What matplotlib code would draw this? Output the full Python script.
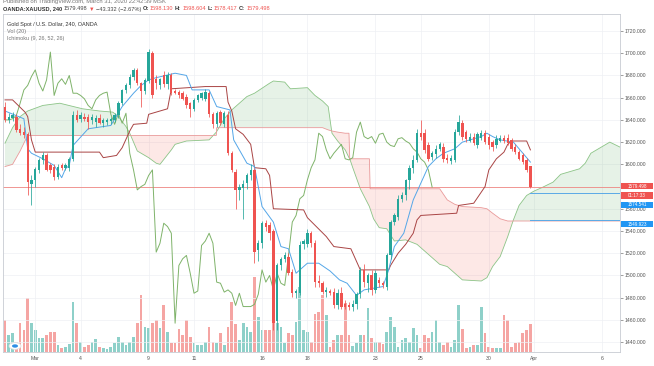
import matplotlib
matplotlib.use("Agg")
import matplotlib.pyplot as plt
import numpy as np
from matplotlib.patches import Circle, Rectangle

plt.rcParams['font.family'] = ['Liberation Sans', 'DejaVu Sans']

# ---------------- data (4h bars, XAUUSD) ----------------
opens = [1652, 1640, 1642, 1643, 1632, 1629, 1627, 1582, 1586, 1595,
         1604, 1608, 1599, 1598, 1589, 1599, 1597, 1597, 1605, 1644,
         1641, 1643, 1643, 1640, 1638, 1642, 1637, 1638, 1639, 1640,
         1644, 1655, 1667, 1671, 1679, 1685, 1673, 1666, 1675, 1700,
         1677, 1671, 1680, 1672, 1680, 1666, 1665, 1664, 1661, 1655,
         1650, 1658, 1660, 1659, 1664, 1645, 1636, 1647, 1636, 1644,
         1610, 1593, 1577, 1579, 1583, 1590, 1595, 1523, 1529, 1547,
         1545, 1540, 1459, 1509, 1515, 1517, 1503, 1484, 1484, 1528,
         1528, 1538, 1529, 1495, 1493, 1485, 1486, 1485, 1473, 1484,
         1474, 1473, 1472, 1474, 1483, 1505, 1493, 1500, 1487, 1496,
         1493, 1490, 1518, 1548, 1553, 1569, 1572, 1586, 1597, 1604,
         1628, 1628, 1617, 1607, 1609, 1614, 1616, 1606, 1603, 1604,
         1629, 1637, 1629, 1621, 1625, 1617, 1624, 1628, 1625, 1620,
         1617, 1621, 1624, 1624, 1622, 1616, 1611, 1608, 1604, 1598.130]
highs = [1656, 1646, 1647, 1645, 1636, 1634, 1629, 1590, 1598, 1606,
         1611, 1610, 1601, 1600, 1600, 1601, 1601, 1607, 1648, 1649,
         1647, 1646, 1645, 1645, 1644, 1645, 1642, 1642, 1643, 1646,
         1657, 1668, 1673, 1681, 1687, 1687, 1674, 1678, 1704, 1702,
         1680, 1678, 1684, 1683, 1682, 1668, 1667, 1666, 1663, 1656,
         1660, 1663, 1665, 1668, 1666, 1647, 1648, 1649, 1648, 1648,
         1612, 1596, 1582, 1586, 1592, 1600, 1597, 1532, 1549, 1550,
         1548, 1542, 1511, 1517, 1521, 1520, 1506, 1488, 1531, 1533,
         1542, 1540, 1532, 1500, 1495, 1490, 1488, 1489, 1488, 1490,
         1478, 1476, 1478, 1485, 1508, 1510, 1502, 1505, 1505, 1499,
         1495, 1520, 1550, 1556, 1572, 1575, 1587, 1599, 1608, 1632,
         1640, 1632, 1620, 1612, 1617, 1620, 1619, 1609, 1608, 1632,
         1644, 1640, 1631, 1628, 1628, 1629, 1631, 1631, 1627, 1622,
         1626, 1626, 1626, 1627, 1624, 1618, 1613, 1610, 1606, 1598.604]
lows = [1638, 1637, 1639, 1629, 1626, 1624, 1572, 1563, 1580, 1592,
        1600, 1594, 1592, 1586, 1587, 1595, 1595, 1594, 1603, 1638,
        1638, 1639, 1632, 1636, 1634, 1636, 1634, 1635, 1636, 1638,
        1642, 1653, 1664, 1669, 1676, 1671, 1652, 1663, 1673, 1660,
        1668, 1668, 1670, 1668, 1662, 1663, 1660, 1658, 1651, 1643,
        1648, 1656, 1658, 1657, 1643, 1633, 1634, 1635, 1634, 1608,
        1593, 1560, 1568, 1551, 1578, 1586, 1511, 1513, 1525, 1540,
        1532, 1451, 1451, 1505, 1512, 1500, 1481, 1480, 1482, 1524,
        1526, 1526, 1490, 1490, 1483, 1481, 1482, 1471, 1470, 1470,
        1470, 1469, 1468, 1470, 1480, 1490, 1485, 1482, 1484, 1490,
        1489, 1487, 1515, 1545, 1550, 1566, 1568, 1578, 1592, 1602,
        1622, 1610, 1603, 1604, 1606, 1612, 1602, 1601, 1600, 1602,
        1626, 1622, 1620, 1620, 1617, 1615, 1622, 1618, 1614, 1612,
        1615, 1620, 1619, 1617, 1612, 1609, 1604, 1600, 1593, 1578.417]
closes = [1640, 1643, 1644, 1631, 1628, 1626, 1584, 1586, 1596, 1604,
          1608, 1595, 1595, 1589, 1598, 1597, 1599, 1605, 1644, 1640,
          1644, 1641, 1638, 1643, 1642, 1637, 1640, 1640, 1641, 1644,
          1655, 1667, 1671, 1679, 1685, 1673, 1666, 1676, 1701, 1662,
          1673, 1677, 1672, 1680, 1664, 1664, 1662, 1659, 1653, 1650,
          1658, 1662, 1664, 1665, 1645, 1636, 1646, 1637, 1646, 1610,
          1595, 1577, 1580, 1582, 1590, 1595, 1521, 1529, 1547, 1544,
          1538, 1457, 1509, 1515, 1518, 1502, 1484, 1486, 1527, 1531,
          1538, 1529, 1494, 1493, 1485, 1487, 1484, 1473, 1484, 1472,
          1472, 1472, 1474, 1483, 1505, 1494, 1500, 1487, 1502, 1493,
          1491, 1518, 1548, 1554, 1569, 1572, 1586, 1597, 1604, 1628,
          1625, 1613, 1605, 1610, 1614, 1618, 1605, 1604, 1606, 1629,
          1638, 1625, 1623, 1625, 1619, 1627, 1628, 1620, 1617, 1616,
          1623, 1624, 1621, 1619, 1614, 1611, 1605, 1602, 1595, 1579.498]
volumes = [32, 17, 19, 10, 29, 22, 54, 29, 22, 14,
           14, 17, 20, 20, 7, 4, 5, 8, 50, 29,
           10, 5, 7, 10, 13, 5, 4, 3, 5, 9,
           15, 10, 7, 10, 15, 29, 57, 25, 24, 29,
           32, 24, 47, 20, 9, 9, 23, 17, 32, 15,
           9, 7, 7, 10, 25, 10, 9, 19, 7, 25,
           50, 28, 12, 29, 25, 20, 75, 35, 22, 22,
           22, 49, 29, 25, 9, 19, 17, 30, 65, 22,
           20, 10, 38, 40, 57, 37, 5, 12, 17, 17,
           49, 17, 6, 9, 17, 17, 44, 14, 10, 10,
           8, 20, 35, 25, 5, 12, 14, 10, 24, 17,
           4, 17, 14, 20, 32, 10, 7, 10, 5, 12,
           47, 23, 4, 5, 7, 7, 45, 19, 5, 4,
           4, 4, 37, 32, 5, 9, 10, 19, 22, 28]

# Ichimoku lines (bar index, price)
tenkan_x = [0, 5, 6, 7, 10, 13, 15, 16, 17, 18, 22, 28, 31, 34, 36, 38, 40, 45, 48, 49.5,
            54, 56, 59.5, 60.5, 62, 64, 66, 68, 71, 73, 75, 77, 80, 83, 86, 88.5, 90.5, 93, 95, 100,
            101.5, 103, 105.5, 108, 110, 112, 114, 116, 119, 121, 123, 126, 127.5, 129, 131, 134.5, 137, 139]
tenkan_v = [1648, 1641, 1614, 1610, 1605, 1599, 1588, 1596, 1599, 1617, 1632, 1635, 1652, 1664, 1671, 1676, 1678, 1682, 1680, 1667,
            1667, 1652, 1649, 1622, 1613, 1601, 1598, 1562, 1548, 1526, 1524, 1502, 1511, 1511, 1504, 1496, 1493, 1482, 1487, 1490,
            1505, 1526, 1538, 1568, 1583, 1598, 1605, 1610, 1614, 1620, 1622, 1625, 1628, 1625, 1622, 1620, 1610, 1602]
kijun_x = [0, 2, 5.3, 6, 7, 8, 25, 26, 29.5, 31, 33, 34, 37.5, 38, 43, 44, 53, 58.5, 59, 60,
           61, 63, 65, 66, 69, 70, 71, 79, 80, 85, 87, 91.5, 94, 101.5, 102, 104, 106, 108, 109, 110,
           119.5, 120, 124, 127, 128, 130, 132, 133, 134, 138, 139]
kijun_v = [1658, 1658, 1647, 1643, 1622, 1611, 1611, 1606, 1608, 1615, 1630, 1636, 1637, 1645, 1650, 1668, 1670, 1670, 1656, 1648,
           1632, 1627, 1618, 1597, 1596, 1590, 1560, 1559, 1552, 1535, 1526, 1524, 1505, 1505, 1509, 1520, 1528, 1538, 1550, 1554,
           1556, 1563, 1565, 1580, 1595, 1605, 1611, 1618, 1621, 1621, 1613]
cloud_x = [0, 2, 4, 6, 10, 14.5, 20.5, 25, 28.5, 30,
           32, 33, 35, 38, 40, 41, 44, 45, 48, 54,
           55.9, 56, 58, 60, 62, 64, 66, 70, 71, 74,
           75.5, 80, 82, 84, 85.5, 86.5, 88, 90, 91, 91.2,
           92, 94, 96.4, 96.6, 97.5, 99, 101, 103, 106, 109,
           112, 115, 117, 119, 121, 126, 127.5, 129, 131, 133,
           134.5, 136, 138, 140, 142, 145, 147, 149, 152, 153.5,
           155, 157, 160, 163, 165]
span_a = [1619, 1633, 1643, 1648, 1653, 1655, 1650, 1648, 1647, 1643,
          1634, 1628, 1612, 1606, 1601, 1600, 1613, 1618, 1621, 1622,
          1629, 1629.5, 1641, 1649, 1655, 1661, 1664, 1673, 1675, 1674,
          1668, 1669, 1662, 1657, 1652, 1628, 1621, 1613, 1606, 1605,
          1597, 1578, 1562, 1560, 1551, 1543, 1542, 1531, 1532, 1528,
          1519, 1510, 1508, 1502, 1496, 1495, 1498, 1508, 1517, 1535,
          1550, 1563, 1572, 1576, 1579, 1584, 1591, 1593, 1596, 1601,
          1610, 1614, 1620, 1615, 1608]
span_b = [1598, 1600, 1612, 1626, 1626, 1626, 1626, 1626, 1626, 1626,
          1626, 1626, 1626, 1626, 1626, 1626, 1626, 1626, 1626, 1626,
          1626, 1633, 1633, 1633, 1633, 1633, 1633, 1633, 1633, 1633,
          1633, 1633, 1633, 1633, 1631, 1630, 1629, 1628, 1628, 1605,
          1605, 1605, 1605, 1578, 1578, 1578, 1578, 1578, 1578, 1578,
          1578, 1578, 1568, 1564, 1562, 1561, 1560, 1556, 1551, 1549,
          1549, 1549, 1549, 1549, 1549, 1549, 1549, 1549, 1549, 1549,
          1549, 1549, 1549, 1549, 1549]
lag_shift = 26
last_price = 1579.498
span_a_last = 1574.541
span_b_last = 1549.923

tick_idx = [8, 20, 38, 50, 68, 80, 98, 110, 128, 140, 158]
tick_lbl = ['Mar', '4', '9', '11', '16', '18', '23', '25', '30', 'Apr', '6']
price_ticks = list(range(1440, 1721, 20))
hidden_price_ticks = [1580]   # covered by the last-price marker

# ---------------- figure ----------------
W, H = 654, 366
fig = plt.figure(figsize=(W / 100, H / 100), dpi=100)
fig.patch.set_facecolor('white')

def rect(l, t, r, b):
    return [l / W, 1 - b / H, (r - l) / W, (b - t) / H]

R = rect(3, 14, 620, 352)
axv = fig.add_axes(R, zorder=0)
ax = fig.add_axes(R, zorder=1)
ax.patch.set_visible(False)

o = np.array(opens, float); h = np.array(highs, float)
l = np.array(lows, float); c = np.array(closes, float)
x = np.arange(len(c))
up = c >= o
UP, DN = '#26a69a', '#ef5350'
VUP, VDN = '#8ed0c9', '#f5a5a3'

XL = (-0.53, 162.7)
YL = (1431.1, 1735.3)

# volume
axv.bar(x, volumes, width=0.72, color=np.where(up, VUP, VDN), linewidth=0)
axv.set_xlim(*XL)
axv.set_ylim(0, 338)
axv.axis('off')

# grid
ax.set_xlim(*XL)
ax.set_ylim(*YL)
for t in price_ticks:
    ax.axhline(t, color='#eef0f4', lw=0.5, zorder=0)
for t in tick_idx:
    ax.axvline(t, color='#eef0f4', lw=0.5, zorder=0)

# cloud
cx = np.array(cloud_x); ca = np.array(span_a, float); cb = np.array(span_b, float)
ax.fill_between(cx, ca, cb, where=ca >= cb, interpolate=True, color='#43a047', alpha=0.13, lw=0, zorder=1)
ax.fill_between(cx, ca, cb, where=ca < cb, interpolate=True, color='#f44336', alpha=0.12, lw=0, zorder=1)
ax.plot(cx, ca, color='#8cc487', lw=0.6, zorder=2)
ax.plot(cx, cb, color='#e99a9a', lw=0.6, zorder=2)

# current price line and indicator price lines
ax.axhline(last_price, color='#f08783', lw=0.6, zorder=2)
ax.plot([x[-1], XL[1]], [span_a_last, span_a_last], color='#5aa9e6', lw=0.7, zorder=2)
ax.plot([x[-1], XL[1]], [span_b_last, span_b_last], color='#5aa9e6', lw=0.7, zorder=2)

# lagging span
ax.plot(x[lag_shift:] - lag_shift, c[lag_shift:], color='#7fb36a', lw=0.7, zorder=3)
# kijun / tenkan
ax.plot(kijun_x, kijun_v, color='#a94444', lw=0.7, zorder=3)
ax.plot(tenkan_x, tenkan_v, color='#54a6e8', lw=0.7, zorder=3)

# candles
col = np.where(up, UP, DN)
ax.vlines(x, l, h, colors=col, lw=0.55, zorder=4)
body_lo = np.minimum(o, c)
body_h = np.maximum(np.abs(c - o), 0.8)
ax.bar(x, body_h, bottom=body_lo, width=0.62, color=col, linewidth=0, zorder=5)

# axes styling
for s in ['left', 'top', 'right', 'bottom']:
    ax.spines[s].set_color('#c8cbd2')
    ax.spines[s].set_linewidth(0.6)
ax.yaxis.tick_right()
ax.set_yticks(price_ticks)
ax.set_yticklabels(['' if p in hidden_price_ticks else f'{p:.3f}' for p in price_ticks])
ax.tick_params(axis='y', labelsize=3.7, colors='#555555', length=2, width=0.4, pad=1.5)
ax.set_xticks(tick_idx)
ax.set_xticklabels(tick_lbl)
ax.tick_params(axis='x', labelsize=3.7, colors='#555555', length=0, pad=3.2)

# right side value boxes
def box(py, txt, fc):
    fig.add_artist(Rectangle((621 / W, 1 - (py + 3.4) / H), 32 / W, 6.8 / H, transform=fig.transFigure,
                             fc=fc, ec='none', zorder=9))
    fig.text(637 / W, 1 - py / H, txt, fontsize=3.3, color='white', ha='center', va='center', zorder=10)

box(186, '1579.498', '#ef5350')
box(195.5, '01:17:33', '#ef5350')
box(205, '1574.541', '#2196f3')
box(224, '1549.923', '#2196f3')

# header texts
r = fig.canvas.get_renderer()
fig.text(3 / W, 1 - 1.5 / H, 'Published on TradingView.com, March 31, 2020 22:42:39 MSK',
         fontsize=4.2, color='#777777', ha='left', va='center')

def chain(px, py, parts, size):
    for s, colr, wt in parts:
        t = fig.text(px / W, 1 - py / H, s, fontsize=size, color=colr, weight=wt, ha='left', va='center')
        bb = t.get_window_extent(renderer=r)
        px += bb.width + 1.4

chain(3, 9, [('OANDA:XAUUSD, 240', '#333333', 'bold'),
             ('1579.498', '#444444', 'normal'),
             ('\u25bc', '#ef5350', 'normal'),
             ('\u221243.332 (\u22122.67%)', '#444444', 'normal'),
             ('O:', '#333333', 'bold'), ('1598.130', '#ef5350', 'normal'),
             ('H:', '#333333', 'bold'), ('1598.604', '#ef5350', 'normal'),
             ('L:', '#333333', 'bold'), ('1578.417', '#ef5350', 'normal'),
             ('C:', '#333333', 'bold'), ('1579.498', '#ef5350', 'normal')], 4.1)

fig.text(7 / W, 1 - 24.5 / H, 'Gold Spot / U.S. Dollar, 240, OANDA', fontsize=4.0, color='#333333',
         ha='left', va='center')
fig.text(7 / W, 1 - 31.5 / H, 'Vol (20)', fontsize=4.0, color='#777777', ha='left', va='center')
fig.text(7 / W, 1 - 38.5 / H, 'Ichimoku (9, 26, 52, 26)', fontsize=4.0, color='#777777', ha='left', va='center')

# logo
fig.add_artist(Circle((15 / W, 1 - 346 / H), radius=6 / W, transform=fig.transFigure, fc='white', ec='#dddddd',
                      lw=0.5, zorder=20))
fig.add_artist(Circle((15 / W, 1 - 346 / H), radius=3 / W, transform=fig.transFigure, fc='#2f8fe6',
                      ec='none', zorder=21))

fig.savefig('out.png', dpi=100)
